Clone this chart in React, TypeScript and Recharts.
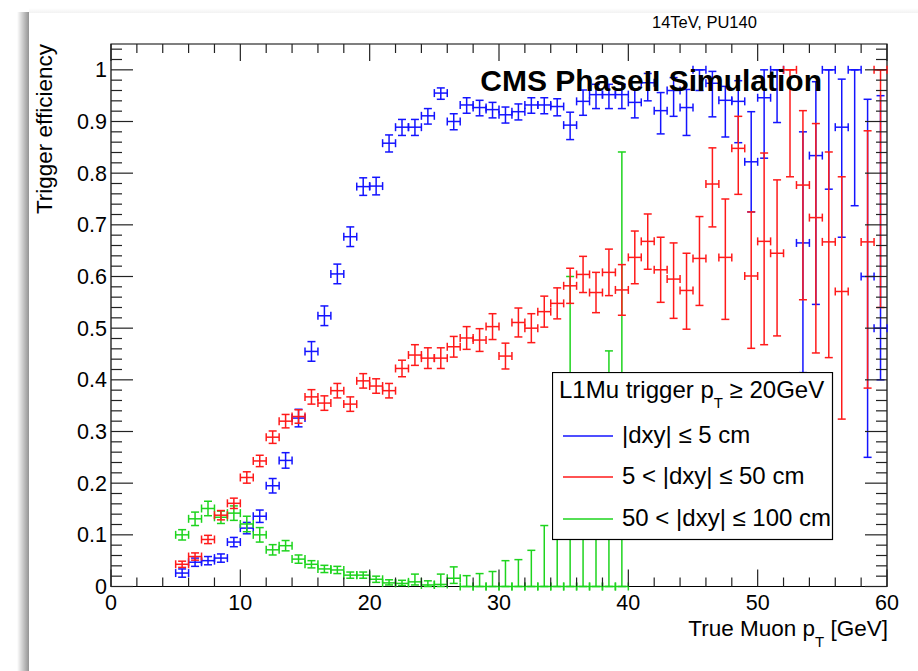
import React from "react";
import {
  ScatterChart,
  Scatter,
  XAxis,
  YAxis,
  ErrorBar,
  ReferenceArea,
  Legend,
} from "recharts";

const FONT = '"Liberation Sans", Arial, Helvetica, sans-serif';

// plot frame in page pixels (ROOT canvas layout)
const PLOT_LEFT = 111;
const PLOT_TOP = 44;
const PLOT_RIGHT = 887;
const PLOT_BOTTOM = 586.5;
const PLOT_W = PLOT_RIGHT - PLOT_LEFT;
const PLOT_H = PLOT_BOTTOM - PLOT_TOP;
const X_AXIS_H = 30;
const Y_AXIS_W = 60;

// bin centres, true muon pT [GeV]
const ptBins = [
  5.5, 6.5, 7.5, 8.5, 9.5, 10.5, 11.5, 12.5, 13.5, 14.5,
  15.5, 16.5, 17.5, 18.5, 19.5, 20.5, 21.5, 22.5, 23.5, 24.5,
  25.5, 26.5, 27.5, 28.5, 29.5, 30.5, 31.5, 32.5, 33.5, 34.5,
  35.5, 36.5, 37.5, 38.5, 39.5, 40.5, 41.5, 42.5, 43.5, 44.5,
  45.5, 46.5, 47.5, 48.5, 49.5, 50.5, 51.5, 52.5, 53.5, 54.5,
  55.5, 56.5, 57.5, 58.5, 59.5,
];
const binHalfWidth = [0.5, 0.5];

// |dxy| <= 5 cm
const blueEff = [
  0.026, 0.047, 0.05, 0.055, 0.086, 0.113, 0.136, 0.195, 0.244, 0.326,
  0.455, 0.524, 0.605, 0.677, 0.774, 0.775, 0.858, 0.889, 0.889, 0.911,
  0.955, 0.9, 0.932, 0.927, 0.923, 0.913, 0.919, 0.932, 0.932, 0.929,
  0.893, 0.939, 0.952, 0.952, 0.952, 0.937, 0.975, 0.921, 0.96, 0.927,
  1.0, 0.974, 0.941, 0.939, 0.822, 0.946, 1.0, null, 0.665, 0.834,
  1.0, 0.889, 1.0, 0.6, 0.5,
];
const blueErrLow = [
  0.008, 0.008, 0.008, 0.008, 0.009, 0.011, 0.012, 0.014, 0.015, 0.017,
  0.019, 0.019, 0.019, 0.019, 0.017, 0.017, 0.017, 0.016, 0.016, 0.016,
  0.012, 0.016, 0.016, 0.016, 0.016, 0.016, 0.016, 0.016, 0.017, 0.018,
  0.028, 0.027, 0.027, 0.027, 0.027, 0.03, 0.035, 0.045, 0.05, 0.054,
  0.04, 0.065, 0.071, 0.08, 0.097, 0.117, 0.102, 0, 0.251, 0.288,
  0.231, 0.213, 0.263, 0.35, 0.1,
];
const blueErrHigh = [
  0.008, 0.008, 0.008, 0.008, 0.009, 0.011, 0.012, 0.014, 0.015, 0.017,
  0.019, 0.019, 0.019, 0.019, 0.017, 0.017, 0.016, 0.015, 0.015, 0.014,
  0.01, 0.015, 0.014, 0.014, 0.014, 0.015, 0.015, 0.014, 0.014, 0.015,
  0.025, 0.022, 0.02, 0.02, 0.02, 0.025, 0.018, 0.035, 0.025, 0.035,
  0, 0.023, 0.027, 0.04, 0.097, 0.054, 0, 0, 0.215, 0.143,
  0, 0.093, 0, 0.343, 0.45,
];

// 5 < |dxy| <= 50 cm
const redEff = [
  0.043, 0.058, 0.091, 0.138, 0.161, 0.211, 0.243, 0.289, 0.32, 0.329,
  0.367, 0.355, 0.379, 0.353, 0.398, 0.388, 0.379, 0.422, 0.448, 0.442,
  0.442, 0.464, 0.481, 0.477, 0.503, 0.446, 0.511, 0.5, 0.532, 0.548,
  0.582, 0.604, 0.569, 0.608, 0.574, 0.637, 0.668, 0.613, 0.595, 0.573,
  0.635, 0.779, 0.637, 0.848, 0.601, 0.668, 0.645, 1.0, 0.777, 0.714,
  0.667, 0.571, null, 0.667, 1.0,
];
const redErrLow = [
  0.006, 0.007, 0.008, 0.009, 0.01, 0.011, 0.011, 0.012, 0.013, 0.013,
  0.014, 0.014, 0.014, 0.014, 0.014, 0.014, 0.014, 0.016, 0.02, 0.02,
  0.02, 0.02, 0.022, 0.022, 0.025, 0.025, 0.028, 0.028, 0.03, 0.03,
  0.034, 0.035, 0.039, 0.045, 0.049, 0.051, 0.054, 0.063, 0.076, 0.075,
  0.091, 0.083, 0.12, 0.089, 0.14, 0.2, 0.16, 0.207, 0.222, 0.262,
  0.224, 0.247, 0, 0.283, 0.46,
];
const redErrHigh = [
  0.006, 0.007, 0.008, 0.009, 0.01, 0.011, 0.011, 0.012, 0.013, 0.013,
  0.014, 0.014, 0.014, 0.014, 0.014, 0.014, 0.014, 0.016, 0.02, 0.02,
  0.02, 0.02, 0.022, 0.022, 0.025, 0.025, 0.028, 0.028, 0.03, 0.03,
  0.034, 0.035, 0.039, 0.045, 0.049, 0.051, 0.053, 0.063, 0.07, 0.072,
  0.081, 0.07, 0.113, 0.062, 0.124, 0.171, 0.142, 0, 0.144, 0.182,
  0.174, 0.222, 0, 0.215, 0,
];

// 50 < |dxy| <= 100 cm (no entries above 40 GeV)
const greenEff = [
  0.1, 0.131, 0.151, 0.134, 0.142, 0.121, 0.1, 0.071, 0.079, 0.053,
  0.043, 0.034, 0.032, 0.022, 0.022, 0.014, 0.007, 0.006, 0.009, 0.003,
  0.004, 0.016, 0, 0, 0, 0, 0, 0, 0, 0,
  0, 0, 0, 0, 0,
];
const greenErrLow = [
  0.01, 0.013, 0.014, 0.012, 0.014, 0.015, 0.014, 0.01, 0.01, 0.008,
  0.007, 0.007, 0.007, 0.006, 0.006, 0.006, 0.004, 0.004, 0.006, 0.003,
  0.004, 0.01, 0, 0, 0, 0, 0, 0, 0, 0,
  0, 0, 0, 0, 0,
];
const greenErrHigh = [
  0.01, 0.013, 0.014, 0.012, 0.014, 0.015, 0.014, 0.01, 0.01, 0.008,
  0.007, 0.007, 0.007, 0.006, 0.006, 0.006, 0.006, 0.006, 0.015, 0.008,
  0.02, 0.022, 0.021, 0.025, 0.029, 0.05, 0.052, 0.07, 0.118, 0.37,
  0.6, 0.31, 0.26, 0.456, 0.841,
];

const seriesNames = ["|dxy| \u2264 5 cm", "5 < |dxy| \u2264 50 cm", "50 < |dxy| \u2264 100 cm"];
const seriesColors = ["#1414ff", "#ff1a1a", "#1ed41e"];

const xTicks = [
  0, 2, 4, 6, 8, 10, 12, 14, 16, 18, 20, 22, 24, 26, 28, 30,
  32, 34, 36, 38, 40, 42, 44, 46, 48, 50, 52, 54, 56, 58, 60,
];
const xTickLabels = ["0", "10", "20", "30", "40", "50", "60"];
const yTicks = Array.from({ length: 53 }, (_, i) => i / 50);
const yTickLabels = ["0", "0.1", "0.2", "0.3", "0.4", "0.5", "0.6", "0.7", "0.8", "0.9", "1"];

function buildSeries(eff: (number | null)[], lo: number[], hi: number[]) {
  return ptBins
    .map((pt, i) => ({ pt, eff: eff[i], ex: binHalfWidth, ey: [lo[i], hi[i]] }))
    .filter((d) => d.eff !== null && d.eff !== undefined);
}

const blueData = buildSeries(blueEff, blueErrLow, blueErrHigh);
const redData = buildSeries(redEff, redErrLow, redErrHigh);
const greenData = buildSeries(greenEff, greenErrLow, greenErrHigh);

function XTick(props: any) {
  const { x, y, payload } = props;
  const v = payload.value;
  const major = v % 10 === 0;
  const len = major ? 17 : 9;
  return (
    <g>
      <line x1={x} y1={y} x2={x} y2={y - len} stroke="#222" strokeWidth={1.2} />
      <line x1={x} y1={y - PLOT_H} x2={x} y2={y - PLOT_H + len} stroke="#222" strokeWidth={1.2} />
      {major && (
        <text x={x} y={y + 23} textAnchor="middle" fontSize={21.5} fontFamily={FONT} fill="#000">
          {xTickLabels[v / 10]}
        </text>
      )}
    </g>
  );
}

function YTick(props: any) {
  const { x, y, payload } = props;
  const k = Math.round(payload.value * 50);
  const major = k % 5 === 0;
  const len = major ? 22 : 11;
  return (
    <g>
      <line x1={x} y1={y} x2={x + len} y2={y} stroke="#222" strokeWidth={1.2} />
      <line x1={x + PLOT_W} y1={y} x2={x + PLOT_W - len} y2={y} stroke="#222" strokeWidth={1.2} />
      {major && (
        <text x={x - 4} y={y} dy="0.35em" textAnchor="end" fontSize={21.5} fontFamily={FONT} fill="#000">
          {yTickLabels[k / 5]}
        </text>
      )}
    </g>
  );
}

function LegendBox() {
  const rows = [64, 105, 147];
  return (
    <svg width={282} height={169} style={{ display: "block" }}>
      <rect x={0.5} y={0.5} width={280} height={167} fill="#fff" stroke="#000" strokeWidth={1.2} />
      <text x={7} y={26} fontSize={24} fontFamily={FONT} fill="#000">
        L1Mu trigger p
        <tspan fontSize={15} dy={10}>T</tspan>
        <tspan dy={-10}> {"\u2265"} 20GeV</tspan>
      </text>
      {seriesNames.map((name, i) => (
        <g key={name}>
          <line x1={11} x2={61} y1={rows[i]} y2={rows[i]} stroke={seriesColors[i]} strokeWidth={1.3} />
          <text x={70} y={rows[i] + 7} fontSize={24} fontFamily={FONT} fill="#000">
            {name}
          </text>
        </g>
      ))}
    </svg>
  );
}

const noMarker = () => <g />;

export default function App() {
  const datasets = [blueData, greenData, redData];
  const colorIdx = [0, 2, 1];
  return (
    <div
      style={{
        position: "absolute",
        left: 0,
        top: 0,
        width: 918,
        height: 671,
        background: "#fff",
        overflow: "hidden",
      }}
    >
      <div
        style={{
          position: "absolute",
          left: 17,
          top: 12,
          width: 12,
          height: 659,
          background: "linear-gradient(to right, rgba(0,0,0,0), rgba(0,0,0,0.42))",
        }}
      />
      <div
        style={{
          position: "absolute",
          left: 29,
          top: 8,
          width: 889,
          height: 5,
          background: "linear-gradient(to bottom, rgba(0,0,0,0), rgba(0,0,0,0.05))",
        }}
      />
      <div style={{ position: "absolute", left: 0, top: 0 }}>
        <ScatterChart
          width={918}
          height={671}
          margin={{
            top: PLOT_TOP,
            right: 918 - PLOT_RIGHT,
            left: PLOT_LEFT - Y_AXIS_W,
            bottom: 671 - PLOT_BOTTOM - X_AXIS_H,
          }}
        >
          <XAxis
            dataKey="pt"
            type="number"
            domain={[0, 60]}
            ticks={xTicks}
            interval={0}
            allowDataOverflow
            axisLine={false}
            tickLine={false}
            tickSize={0}
            tickMargin={0}
            height={X_AXIS_H}
            tick={(p: any) => <XTick {...p} />}
          />
          <YAxis
            dataKey="eff"
            type="number"
            domain={[0, 1.05]}
            ticks={yTicks}
            interval={0}
            allowDataOverflow
            axisLine={false}
            tickLine={false}
            tickSize={0}
            tickMargin={0}
            width={Y_AXIS_W}
            tick={(p: any) => <YTick {...p} />}
          />
          <ReferenceArea
            x1={0}
            x2={60}
            y1={0}
            y2={1.05}
            fill="none"
            fillOpacity={0}
            stroke="#000"
            strokeWidth={1.2}
            ifOverflow="visible"
          />
          {datasets.map((data, i) => (
            <Scatter
              key={seriesNames[colorIdx[i]]}
              name={seriesNames[colorIdx[i]]}
              data={data}
              fill={seriesColors[colorIdx[i]]}
              shape={noMarker}
              isAnimationActive={false}
            >
              <ErrorBar
                dataKey="ey"
                direction="y"
                width={4}
                stroke={seriesColors[colorIdx[i]]}
                strokeWidth={1.5}
                isAnimationActive={false}
              />
              <ErrorBar
                dataKey="ex"
                direction="x"
                width={4}
                stroke={seriesColors[colorIdx[i]]}
                strokeWidth={1.5}
                isAnimationActive={false}
              />
            </Scatter>
          ))}
          <Legend
            layout="vertical"
            align="center"
            verticalAlign="middle"
            wrapperStyle={{ position: "absolute", left: 552, top: 372, width: 282, height: 169 }}
            content={() => <LegendBox />}
          />
        </ScatterChart>
      </div>
      <svg
        width={918}
        height={671}
        style={{ position: "absolute", left: 0, top: 0, pointerEvents: "none" }}
      >
        <text x={652} y={28} fontSize={16.5} fontFamily={FONT} fill="#000">
          14TeV, PU140
        </text>
        <text x={822} y={91} textAnchor="end" fontSize={30} fontWeight="bold" fontFamily={FONT} fill="#000">
          CMS PhaseII Simulation
        </text>
        <text
          transform="translate(52,44) rotate(-90)"
          textAnchor="end"
          fontSize={22.5}
          fontFamily={FONT}
          fill="#000"
        >
          Trigger efficiency
        </text>
        <text x={888} y={636} textAnchor="end" fontSize={22.5} fontFamily={FONT} fill="#000">
          True Muon p
          <tspan fontSize={15} dy={11}>T</tspan>
          <tspan dy={-11}> [GeV]</tspan>
        </text>
      </svg>
    </div>
  );
}
